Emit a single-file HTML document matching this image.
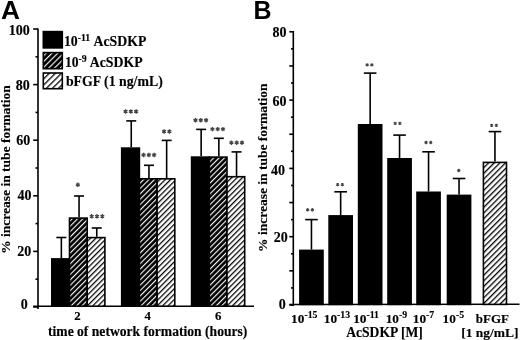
<!DOCTYPE html>
<html><head><meta charset="utf-8"><style>
html,body{margin:0;padding:0;background:#fff;}
svg{display:block;will-change:transform;filter:blur(0.35px);}
text{font-family:"Liberation Serif",serif;font-weight:bold;fill:#000;stroke:#000;stroke-width:0.15px;}
</style></head><body>
<svg width="520" height="340" viewBox="0 0 520 340">
<defs><pattern id="hd" patternUnits="userSpaceOnUse" width="3.8" height="3.8" patternTransform="rotate(45) translate(0 0)"><rect width="3.8" height="3.8" fill="#000"/><rect x="0" y="0" width="1.1" height="3.8" fill="#fff"/></pattern><pattern id="hl" patternUnits="userSpaceOnUse" width="3.8" height="3.8" patternTransform="rotate(45) translate(0 0)"><rect width="3.8" height="3.8" fill="#fff"/><rect x="0" y="0" width="1.25" height="3.8" fill="#000"/></pattern><pattern id="hb" patternUnits="userSpaceOnUse" width="4.0" height="4.0" patternTransform="rotate(45) translate(0 0)"><rect width="4.0" height="4.0" fill="#fff"/><rect x="0" y="0" width="1.3" height="4.0" fill="#000"/></pattern><pattern id="hdl" patternUnits="userSpaceOnUse" width="4.1" height="4.1" patternTransform="rotate(45) translate(0 0)"><rect width="4.1" height="4.1" fill="#000"/><rect x="0" y="0" width="1.1" height="4.1" fill="#fff"/></pattern><pattern id="hll" patternUnits="userSpaceOnUse" width="4.3" height="4.3" patternTransform="rotate(45) translate(0 0)"><rect width="4.3" height="4.3" fill="#fff"/><rect x="0" y="0" width="1.25" height="4.3" fill="#000"/></pattern></defs>
<line x1="38.00" y1="28.50" x2="38.00" y2="309.00" stroke="#000" stroke-width="1.6"/>
<line x1="33.20" y1="307.00" x2="38.00" y2="307.00" stroke="#000" stroke-width="1.6"/>
<line x1="35.50" y1="279.20" x2="38.00" y2="279.20" stroke="#000" stroke-width="1.6"/>
<line x1="33.20" y1="251.40" x2="38.00" y2="251.40" stroke="#000" stroke-width="1.6"/>
<line x1="35.50" y1="223.60" x2="38.00" y2="223.60" stroke="#000" stroke-width="1.6"/>
<line x1="33.20" y1="195.80" x2="38.00" y2="195.80" stroke="#000" stroke-width="1.6"/>
<line x1="35.50" y1="168.00" x2="38.00" y2="168.00" stroke="#000" stroke-width="1.6"/>
<line x1="33.20" y1="140.20" x2="38.00" y2="140.20" stroke="#000" stroke-width="1.6"/>
<line x1="35.50" y1="112.40" x2="38.00" y2="112.40" stroke="#000" stroke-width="1.6"/>
<line x1="33.20" y1="84.60" x2="38.00" y2="84.60" stroke="#000" stroke-width="1.6"/>
<line x1="35.50" y1="56.80" x2="38.00" y2="56.80" stroke="#000" stroke-width="1.6"/>
<line x1="33.20" y1="29.00" x2="38.00" y2="29.00" stroke="#000" stroke-width="1.6"/>
<line x1="33.20" y1="306.20" x2="254.00" y2="306.20" stroke="#000" stroke-width="1.6"/>
<text x="19.30" y="34.88" font-size="14" text-anchor="middle" >100</text>
<text x="22.80" y="90.13" font-size="14" text-anchor="middle" >80</text>
<text x="23.25" y="144.53" font-size="14" text-anchor="middle" >60</text>
<text x="24.40" y="199.88" font-size="14" text-anchor="middle" >40</text>
<text x="24.25" y="256.28" font-size="14" text-anchor="middle" >20</text>
<text x="24.25" y="308.68" font-size="14" text-anchor="middle" >0</text>
<line x1="61.35" y1="258.10" x2="61.35" y2="237.50" stroke="#000" stroke-width="1.6"/>
<line x1="56.35" y1="237.50" x2="66.35" y2="237.50" stroke="#000" stroke-width="1.6"/>
<line x1="79.05" y1="217.30" x2="79.05" y2="196.00" stroke="#000" stroke-width="1.6"/>
<line x1="74.05" y1="196.00" x2="84.05" y2="196.00" stroke="#000" stroke-width="1.6"/>
<line x1="96.75" y1="236.80" x2="96.75" y2="228.00" stroke="#000" stroke-width="1.6"/>
<line x1="91.75" y1="228.00" x2="101.75" y2="228.00" stroke="#000" stroke-width="1.6"/>
<line x1="131.25" y1="147.30" x2="131.25" y2="120.90" stroke="#000" stroke-width="1.6"/>
<line x1="126.25" y1="120.90" x2="136.25" y2="120.90" stroke="#000" stroke-width="1.6"/>
<line x1="148.95" y1="178.00" x2="148.95" y2="165.30" stroke="#000" stroke-width="1.6"/>
<line x1="143.95" y1="165.30" x2="153.95" y2="165.30" stroke="#000" stroke-width="1.6"/>
<line x1="166.65" y1="178.00" x2="166.65" y2="140.40" stroke="#000" stroke-width="1.6"/>
<line x1="161.65" y1="140.40" x2="171.65" y2="140.40" stroke="#000" stroke-width="1.6"/>
<line x1="201.15" y1="156.30" x2="201.15" y2="129.40" stroke="#000" stroke-width="1.6"/>
<line x1="196.15" y1="129.40" x2="206.15" y2="129.40" stroke="#000" stroke-width="1.6"/>
<line x1="218.85" y1="156.30" x2="218.85" y2="138.30" stroke="#000" stroke-width="1.6"/>
<line x1="213.85" y1="138.30" x2="223.85" y2="138.30" stroke="#000" stroke-width="1.6"/>
<line x1="236.55" y1="175.90" x2="236.55" y2="151.90" stroke="#000" stroke-width="1.6"/>
<line x1="231.55" y1="151.90" x2="241.55" y2="151.90" stroke="#000" stroke-width="1.6"/>
<rect x="51.80" y="258.90" width="17.70" height="47.30" fill="#000" stroke="#000" stroke-width="1.6"/>
<rect x="69.50" y="218.10" width="17.70" height="88.10" fill="url(#hd)" stroke="#000" stroke-width="1.6"/>
<rect x="87.20" y="237.60" width="17.70" height="68.60" fill="url(#hl)" stroke="#000" stroke-width="1.6"/>
<rect x="121.70" y="148.10" width="17.70" height="158.10" fill="#000" stroke="#000" stroke-width="1.6"/>
<rect x="139.40" y="178.80" width="17.70" height="127.40" fill="url(#hd)" stroke="#000" stroke-width="1.6"/>
<rect x="157.10" y="178.80" width="17.70" height="127.40" fill="url(#hl)" stroke="#000" stroke-width="1.6"/>
<rect x="191.60" y="157.10" width="17.70" height="149.10" fill="#000" stroke="#000" stroke-width="1.6"/>
<rect x="209.30" y="157.10" width="17.70" height="149.10" fill="url(#hd)" stroke="#000" stroke-width="1.6"/>
<rect x="227.00" y="176.70" width="17.70" height="129.50" fill="url(#hl)" stroke="#000" stroke-width="1.6"/>
<text x="77.50" y="319.60" font-size="12.8" text-anchor="middle" >2</text>
<text x="147.60" y="319.60" font-size="12.8" text-anchor="middle" >4</text>
<text x="218.20" y="319.60" font-size="12.8" text-anchor="middle" >6</text>
<text x="48.00" y="335.80" font-size="13.6" text-anchor="start" >time of network formation (hours)</text>
<rect x="43.30" y="31.60" width="19.00" height="16.30" fill="#000" stroke="#000" stroke-width="1.6"/>
<rect x="43.30" y="52.60" width="19.00" height="16.10" fill="url(#hdl)" stroke="#000" stroke-width="1.6"/>
<rect x="43.30" y="73.00" width="19.00" height="15.70" fill="url(#hll)" stroke="#000" stroke-width="1.6"/>
<text x="63.90" y="45.60" font-size="13.8" text-anchor="start" >10<tspan font-size="9.8" dy="-4.5">-11</tspan></text>
<text x="93.50" y="45.50" font-size="13.8" text-anchor="start" >AcSDKP</text>
<text x="64.90" y="66.60" font-size="13.6" text-anchor="start" >10<tspan font-size="9.8" dy="-4.5">-9</tspan></text>
<text x="89.70" y="66.50" font-size="13.8" text-anchor="start" >AcSDKP</text>
<text x="65.90" y="86.10" font-size="13.8" text-anchor="start" >bFGF (1 ng/mL)</text>
<text x="0.00" y="0.00" font-size="13.5" text-anchor="middle" transform="translate(10.4,169.6) rotate(-90)">% increase in tube formation</text>
<text x="0.9" y="18.5" transform="scale(1.05,1)" style="font-family:'Liberation Sans',sans-serif;font-weight:bold;stroke:none" font-size="25">A</text>
<text x="253.5" y="18.8" style="font-family:'Liberation Sans',sans-serif;font-weight:bold;stroke:none" font-size="25">B</text>
<line x1="293.30" y1="31.00" x2="293.30" y2="306.00" stroke="#000" stroke-width="1.6"/>
<line x1="289.30" y1="305.00" x2="293.30" y2="305.00" stroke="#000" stroke-width="1.6"/>
<line x1="291.00" y1="287.93" x2="293.30" y2="287.93" stroke="#000" stroke-width="1.6"/>
<line x1="289.30" y1="270.85" x2="293.30" y2="270.85" stroke="#000" stroke-width="1.6"/>
<line x1="291.00" y1="253.78" x2="293.30" y2="253.78" stroke="#000" stroke-width="1.6"/>
<line x1="289.30" y1="236.70" x2="293.30" y2="236.70" stroke="#000" stroke-width="1.6"/>
<line x1="291.00" y1="219.62" x2="293.30" y2="219.62" stroke="#000" stroke-width="1.6"/>
<line x1="289.30" y1="202.55" x2="293.30" y2="202.55" stroke="#000" stroke-width="1.6"/>
<line x1="291.00" y1="185.47" x2="293.30" y2="185.47" stroke="#000" stroke-width="1.6"/>
<line x1="289.30" y1="168.40" x2="293.30" y2="168.40" stroke="#000" stroke-width="1.6"/>
<line x1="291.00" y1="151.32" x2="293.30" y2="151.32" stroke="#000" stroke-width="1.6"/>
<line x1="289.30" y1="134.25" x2="293.30" y2="134.25" stroke="#000" stroke-width="1.6"/>
<line x1="291.00" y1="117.18" x2="293.30" y2="117.18" stroke="#000" stroke-width="1.6"/>
<line x1="289.30" y1="100.10" x2="293.30" y2="100.10" stroke="#000" stroke-width="1.6"/>
<line x1="291.00" y1="83.03" x2="293.30" y2="83.03" stroke="#000" stroke-width="1.6"/>
<line x1="289.30" y1="65.95" x2="293.30" y2="65.95" stroke="#000" stroke-width="1.6"/>
<line x1="291.00" y1="48.88" x2="293.30" y2="48.88" stroke="#000" stroke-width="1.6"/>
<line x1="289.30" y1="31.80" x2="293.30" y2="31.80" stroke="#000" stroke-width="1.6"/>
<line x1="289.30" y1="304.50" x2="519.50" y2="304.30" stroke="#000" stroke-width="1.6"/>
<text x="279.40" y="37.48" font-size="14" text-anchor="middle" >80</text>
<text x="279.40" y="105.73" font-size="14" text-anchor="middle" >60</text>
<text x="278.10" y="174.88" font-size="14" text-anchor="middle" >40</text>
<text x="280.85" y="242.43" font-size="14" text-anchor="middle" >20</text>
<text x="282.20" y="308.53" font-size="14" text-anchor="middle" >0</text>
<line x1="311.45" y1="249.60" x2="311.45" y2="219.60" stroke="#000" stroke-width="1.6"/>
<line x1="305.15" y1="219.60" x2="317.75" y2="219.60" stroke="#000" stroke-width="1.6"/>
<line x1="340.65" y1="215.10" x2="340.65" y2="191.80" stroke="#000" stroke-width="1.6"/>
<line x1="334.35" y1="191.80" x2="346.95" y2="191.80" stroke="#000" stroke-width="1.6"/>
<line x1="370.15" y1="124.00" x2="370.15" y2="73.10" stroke="#000" stroke-width="1.6"/>
<line x1="363.85" y1="73.10" x2="376.45" y2="73.10" stroke="#000" stroke-width="1.6"/>
<line x1="399.55" y1="158.00" x2="399.55" y2="135.10" stroke="#000" stroke-width="1.6"/>
<line x1="393.25" y1="135.10" x2="405.85" y2="135.10" stroke="#000" stroke-width="1.6"/>
<line x1="428.55" y1="191.50" x2="428.55" y2="151.80" stroke="#000" stroke-width="1.6"/>
<line x1="422.25" y1="151.80" x2="434.85" y2="151.80" stroke="#000" stroke-width="1.6"/>
<line x1="459.05" y1="194.60" x2="459.05" y2="178.50" stroke="#000" stroke-width="1.6"/>
<line x1="452.75" y1="178.50" x2="465.35" y2="178.50" stroke="#000" stroke-width="1.6"/>
<line x1="494.95" y1="161.60" x2="494.95" y2="131.60" stroke="#000" stroke-width="1.6"/>
<line x1="488.65" y1="131.60" x2="501.25" y2="131.60" stroke="#000" stroke-width="1.6"/>
<rect x="299.90" y="250.40" width="23.10" height="54.00" fill="#000" stroke="#000" stroke-width="1.6"/>
<rect x="329.10" y="215.90" width="23.10" height="88.50" fill="#000" stroke="#000" stroke-width="1.6"/>
<rect x="358.60" y="124.80" width="23.10" height="179.60" fill="#000" stroke="#000" stroke-width="1.6"/>
<rect x="388.00" y="158.80" width="23.10" height="145.60" fill="#000" stroke="#000" stroke-width="1.6"/>
<rect x="417.00" y="192.30" width="23.10" height="112.10" fill="#000" stroke="#000" stroke-width="1.6"/>
<rect x="447.50" y="195.40" width="23.10" height="109.00" fill="#000" stroke="#000" stroke-width="1.6"/>
<rect x="483.40" y="162.40" width="23.10" height="142.00" fill="url(#hb)" stroke="#000" stroke-width="1.6"/>
<text x="291.10" y="323.00" font-size="13.3" text-anchor="start" >10<tspan font-size="9.8" dy="-5.0">-15</tspan></text>
<text x="323.80" y="323.00" font-size="13.3" text-anchor="start" >10<tspan font-size="9.8" dy="-5.0">-13</tspan></text>
<text x="353.20" y="323.00" font-size="13.3" text-anchor="start" >10<tspan font-size="9.8" dy="-5.0">-11</tspan></text>
<text x="385.70" y="323.00" font-size="13.3" text-anchor="start" >10<tspan font-size="9.8" dy="-5.0">-9</tspan></text>
<text x="412.80" y="323.00" font-size="13.3" text-anchor="start" >10<tspan font-size="9.8" dy="-5.0">-7</tspan></text>
<text x="442.60" y="323.00" font-size="13.3" text-anchor="start" >10<tspan font-size="9.8" dy="-5.0">-5</tspan></text>
<text x="475.80" y="323.00" font-size="13.0" text-anchor="start" >bFGF</text>
<text x="346.20" y="336.60" font-size="13.6" text-anchor="start" >AcSDKP [M]</text>
<text x="461.20" y="336.90" font-size="13.5" text-anchor="start" >[1 ng/mL]</text>
<text x="0.00" y="0.00" font-size="13.5" text-anchor="middle" transform="translate(266.8,167.7) rotate(-90)">% increase in tube formation</text>
<path d="M77.80 187.00L77.80 182.60M75.89 185.90L79.71 183.70M75.89 183.70L79.71 185.90" stroke="#444" stroke-width="1.3" fill="none"/>
<path d="M91.70 218.50L91.70 214.10M89.79 217.40L93.61 215.20M89.79 215.20L93.61 217.40" stroke="#444" stroke-width="1.3" fill="none"/>
<path d="M97.00 218.50L97.00 214.10M95.09 217.40L98.91 215.20M95.09 215.20L98.91 217.40" stroke="#444" stroke-width="1.3" fill="none"/>
<path d="M102.30 218.50L102.30 214.10M100.39 217.40L104.21 215.20M100.39 215.20L104.21 217.40" stroke="#444" stroke-width="1.3" fill="none"/>
<path d="M125.60 113.70L125.60 109.30M123.69 112.60L127.51 110.40M123.69 110.40L127.51 112.60" stroke="#444" stroke-width="1.3" fill="none"/>
<path d="M130.90 113.70L130.90 109.30M128.99 112.60L132.81 110.40M128.99 110.40L132.81 112.60" stroke="#444" stroke-width="1.3" fill="none"/>
<path d="M136.20 113.70L136.20 109.30M134.29 112.60L138.11 110.40M134.29 110.40L138.11 112.60" stroke="#444" stroke-width="1.3" fill="none"/>
<path d="M143.60 157.20L143.60 152.80M141.69 156.10L145.51 153.90M141.69 153.90L145.51 156.10" stroke="#444" stroke-width="1.3" fill="none"/>
<path d="M148.90 157.20L148.90 152.80M146.99 156.10L150.81 153.90M146.99 153.90L150.81 156.10" stroke="#444" stroke-width="1.3" fill="none"/>
<path d="M154.20 157.20L154.20 152.80M152.29 156.10L156.11 153.90M152.29 153.90L156.11 156.10" stroke="#444" stroke-width="1.3" fill="none"/>
<path d="M164.15 133.70L164.15 129.30M162.24 132.60L166.06 130.40M162.24 130.40L166.06 132.60" stroke="#444" stroke-width="1.3" fill="none"/>
<path d="M169.45 133.70L169.45 129.30M167.54 132.60L171.36 130.40M167.54 130.40L171.36 132.60" stroke="#444" stroke-width="1.3" fill="none"/>
<path d="M195.50 122.40L195.50 118.00M193.59 121.30L197.41 119.10M193.59 119.10L197.41 121.30" stroke="#444" stroke-width="1.3" fill="none"/>
<path d="M200.80 122.40L200.80 118.00M198.89 121.30L202.71 119.10M198.89 119.10L202.71 121.30" stroke="#444" stroke-width="1.3" fill="none"/>
<path d="M206.10 122.40L206.10 118.00M204.19 121.30L208.01 119.10M204.19 119.10L208.01 121.30" stroke="#444" stroke-width="1.3" fill="none"/>
<path d="M212.40 131.30L212.40 126.90M210.49 130.20L214.31 128.00M210.49 128.00L214.31 130.20" stroke="#444" stroke-width="1.3" fill="none"/>
<path d="M217.70 131.30L217.70 126.90M215.79 130.20L219.61 128.00M215.79 128.00L219.61 130.20" stroke="#444" stroke-width="1.3" fill="none"/>
<path d="M223.00 131.30L223.00 126.90M221.09 130.20L224.91 128.00M221.09 128.00L224.91 130.20" stroke="#444" stroke-width="1.3" fill="none"/>
<path d="M231.40 144.90L231.40 140.50M229.49 143.80L233.31 141.60M229.49 141.60L233.31 143.80" stroke="#444" stroke-width="1.3" fill="none"/>
<path d="M236.70 144.90L236.70 140.50M234.79 143.80L238.61 141.60M234.79 141.60L238.61 143.80" stroke="#444" stroke-width="1.3" fill="none"/>
<path d="M242.00 144.90L242.00 140.50M240.09 143.80L243.91 141.60M240.09 141.60L243.91 143.80" stroke="#444" stroke-width="1.3" fill="none"/>
<path d="M307.65 211.50L307.65 208.10M306.18 210.65L309.12 208.95M306.18 208.95L309.12 210.65" stroke="#444" stroke-width="1.1" fill="none"/>
<path d="M312.35 211.50L312.35 208.10M310.88 210.65L313.82 208.95M310.88 208.95L313.82 210.65" stroke="#444" stroke-width="1.1" fill="none"/>
<path d="M337.65 186.30L337.65 182.90M336.18 185.45L339.12 183.75M336.18 183.75L339.12 185.45" stroke="#444" stroke-width="1.1" fill="none"/>
<path d="M342.35 186.30L342.35 182.90M340.88 185.45L343.82 183.75M340.88 183.75L343.82 185.45" stroke="#444" stroke-width="1.1" fill="none"/>
<path d="M367.15 66.60L367.15 63.20M365.68 65.75L368.62 64.05M365.68 64.05L368.62 65.75" stroke="#444" stroke-width="1.1" fill="none"/>
<path d="M371.85 66.60L371.85 63.20M370.38 65.75L373.32 64.05M370.38 64.05L373.32 65.75" stroke="#444" stroke-width="1.1" fill="none"/>
<path d="M395.15 125.10L395.15 121.70M393.68 124.25L396.62 122.55M393.68 122.55L396.62 124.25" stroke="#444" stroke-width="1.1" fill="none"/>
<path d="M399.85 125.10L399.85 121.70M398.38 124.25L401.32 122.55M398.38 122.55L401.32 124.25" stroke="#444" stroke-width="1.1" fill="none"/>
<path d="M426.05 144.20L426.05 140.80M424.58 143.35L427.52 141.65M424.58 141.65L427.52 143.35" stroke="#444" stroke-width="1.1" fill="none"/>
<path d="M430.75 144.20L430.75 140.80M429.28 143.35L432.22 141.65M429.28 141.65L432.22 143.35" stroke="#444" stroke-width="1.1" fill="none"/>
<path d="M458.80 172.20L458.80 168.80M457.33 171.35L460.27 169.65M457.33 169.65L460.27 171.35" stroke="#444" stroke-width="1.1" fill="none"/>
<path d="M491.65 127.10L491.65 123.70M490.18 126.25L493.12 124.55M490.18 124.55L493.12 126.25" stroke="#444" stroke-width="1.1" fill="none"/>
<path d="M496.35 127.10L496.35 123.70M494.88 126.25L497.82 124.55M494.88 124.55L497.82 126.25" stroke="#444" stroke-width="1.1" fill="none"/>
</svg></body></html>
